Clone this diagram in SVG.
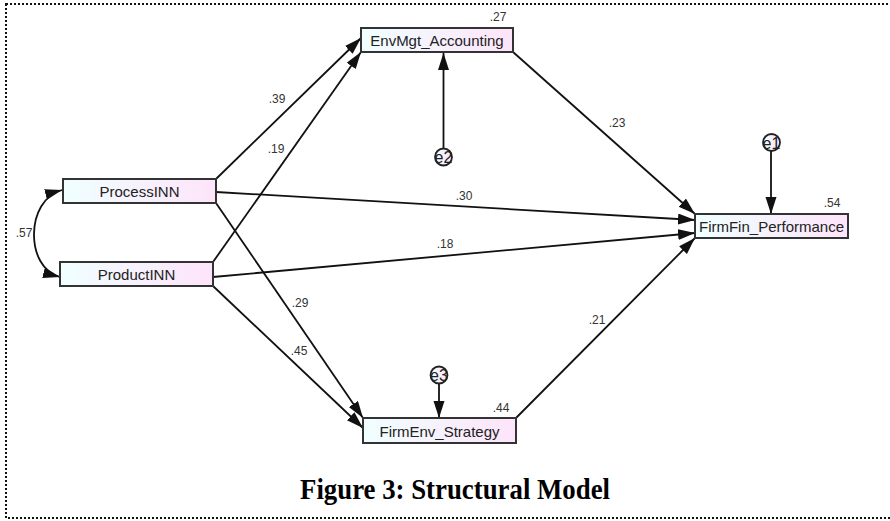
<svg xmlns="http://www.w3.org/2000/svg" width="890" height="521" viewBox="0 0 890 521">
<style>
.node{stroke:#333;stroke-width:2;fill:url(#g)}
.nt{font-family:"Liberation Sans",Arial,sans-serif;font-size:15px;fill:#222;text-anchor:middle}
.lb{font-family:"Liberation Sans",Arial,sans-serif;font-size:12px;fill:#333;text-anchor:middle}
.e{stroke:#222;stroke-width:1.8;fill:url(#g)}
.et{font-family:"Liberation Sans",Arial,sans-serif;font-size:16px;fill:#222;text-anchor:middle}
.c{stroke:#111;stroke-width:1.8;fill:none;marker-end:url(#ah)}
</style>
<defs>
<linearGradient id="g" x1="0" y1="0" x2="1" y2="0">
<stop offset="0" stop-color="#f0ffff"/>
<stop offset="1" stop-color="#fde4fa"/>
</linearGradient>
<marker id="ah" markerUnits="userSpaceOnUse" markerWidth="20" markerHeight="14" refX="17" refY="5.5" orient="auto-start-reverse">
<path d="M0,0 L17,5.5 L0,11 z" fill="#111"/>
</marker>
</defs>
<rect x="6" y="4" width="885" height="514" fill="#fff" stroke="#111" stroke-width="2" stroke-dasharray="2 2"/>
<g id="connectors">
<path class="c" d="M216,179 L361,38"/>
<path class="c" d="M213,262 L361,52"/>
<path class="c" d="M216,192 L695,220"/>
<path class="c" d="M213,277 L695,233"/>
<path class="c" d="M216,203 L363,418"/>
<path class="c" d="M213,286 L363,428"/>
<path class="c" d="M513,52 L695,214"/>
<path class="c" d="M516,418 L695,238"/>
<path class="c" d="M771,151 L771,214"/>
<path class="c" d="M443.5,148 L443.5,53"/>
<path class="c" d="M439,383 L439,418"/>
<path class="c" d="M62,190 C25,200 25,268 60,277" marker-start="url(#ah)"/>
<text class="lb" x="277" y="103">.39</text>
<text class="lb" x="276" y="153">.19</text>
<text class="lb" x="464" y="200">.30</text>
<text class="lb" x="445" y="248">.18</text>
<text class="lb" x="300" y="307">.29</text>
<text class="lb" x="299" y="355">.45</text>
<text class="lb" x="617" y="127">.23</text>
<text class="lb" x="597" y="324">.21</text>
<text class="lb" x="24" y="237">.57</text>
</g>
<g id="ProcessINN">
<rect class="node" x="63" y="179" width="153" height="24"/>
<text class="nt" x="139.5" y="197">ProcessINN</text>
</g>
<g id="ProductINN">
<rect class="node" x="60" y="262" width="153" height="24"/>
<text class="nt" x="136.5" y="280">ProductINN</text>
</g>
<g id="EnvMgt_Accounting">
<rect class="node" x="361" y="28" width="152" height="24"/>
<text class="nt" x="437" y="46">EnvMgt_Accounting</text>
<text class="lb" x="498" y="21">.27</text>
</g>
<g id="FirmFin_Performance">
<rect class="node" x="695" y="214" width="153" height="24"/>
<text class="nt" x="771.5" y="232">FirmFin_Performance</text>
<text class="lb" x="832" y="207">.54</text>
</g>
<g id="FirmEnv_Strategy">
<rect class="node" x="363" y="418" width="153" height="25"/>
<text class="nt" x="439.5" y="437">FirmEnv_Strategy</text>
<text class="lb" x="501" y="412">.44</text>
</g>
<g id="e1">
<circle class="e" cx="771.5" cy="142.5" r="8.5"/>
<text class="et" x="771.5" y="148.5">e1</text>
</g>
<g id="e2">
<circle class="e" cx="443.5" cy="157" r="8.5"/>
<text class="et" x="443.5" y="163">e2</text>
</g>
<g id="e3">
<circle class="e" cx="439" cy="375" r="8.5"/>
<text class="et" x="439" y="381">e3</text>
</g>
<text x="455" y="499" font-family="'Liberation Serif','Times New Roman',serif" font-weight="bold" font-size="30" text-anchor="middle" textLength="310" lengthAdjust="spacingAndGlyphs" fill="#000">Figure 3: Structural Model</text>
</svg>
